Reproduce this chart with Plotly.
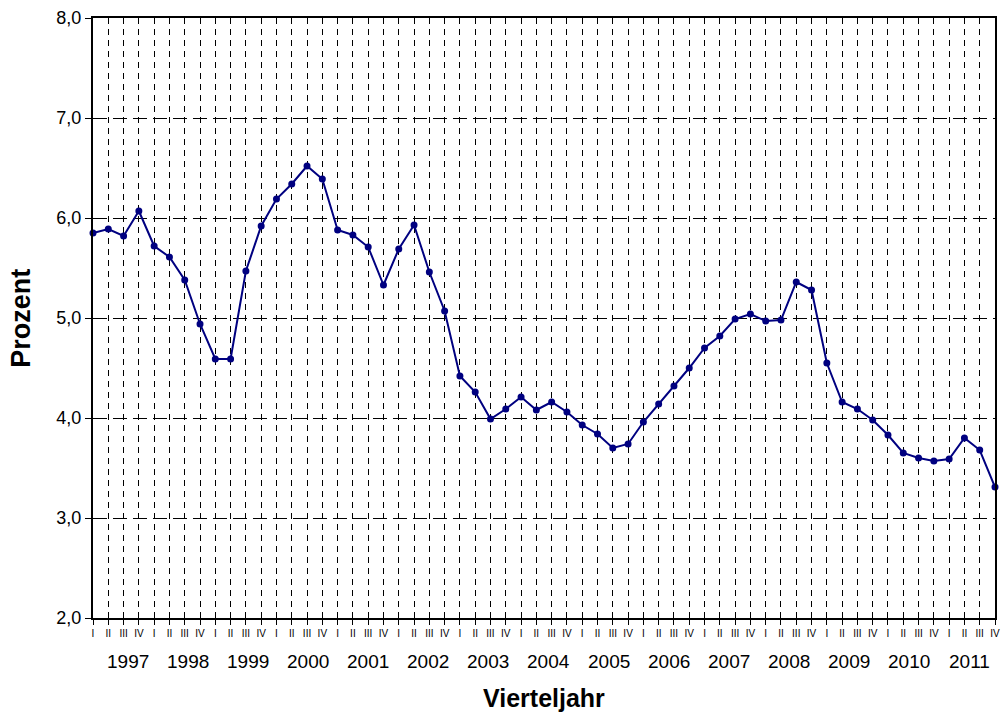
import plotly.graph_objects as go

# Quartalswerte 1997 I bis 2011 IV (Prozent)
jahre = [str(j) for j in range(1997, 2012)]
quartale = ["I", "II", "III", "IV"]
werte = [
    5.85, 5.89, 5.82, 6.07,   # 1997
    5.72, 5.61, 5.38, 4.94,   # 1998
    4.59, 4.59, 5.47, 5.92,   # 1999
    6.19, 6.34, 6.52, 6.39,   # 2000
    5.88, 5.83, 5.71, 5.33,   # 2001
    5.69, 5.93, 5.46, 5.07,   # 2002
    4.42, 4.26, 3.99, 4.09,   # 2003
    4.21, 4.08, 4.16, 4.06,   # 2004
    3.93, 3.84, 3.70, 3.74,   # 2005
    3.96, 4.14, 4.32, 4.50,   # 2006
    4.70, 4.82, 4.99, 5.04,   # 2007
    4.97, 4.98, 5.36, 5.28,   # 2008
    4.55, 4.16, 4.09, 3.98,   # 2009
    3.83, 3.65, 3.60, 3.57,   # 2010
    3.59, 3.80, 3.68, 3.31,   # 2011
]
y_ticks = [2, 3, 4, 5, 6, 7, 8]

x = list(range(len(werte)))
q_labels = [quartale[i % 4] for i in x]

fig = go.Figure()
fig.add_trace(go.Scatter(
    x=x, y=werte, mode="lines+markers",
    line=dict(color="#000080", width=2),
    marker=dict(color="#000080", size=7),
    cliponaxis=False, showlegend=False,
))

fig.update_layout(
    width=1008, height=713,
    margin=dict(l=93, r=8, t=17, b=95),
    plot_bgcolor="white", paper_bgcolor="white",
    separators=",.",
    font=dict(family="Liberation Sans, Arial, sans-serif", color="black"),
)

fig.update_xaxes(
    range=[0, len(werte) - 1],
    tickmode="array", tickvals=x, ticktext=q_labels,
    tickfont=dict(size=10),
    ticks="outside", ticklen=5, tickcolor="black",
    showline=True, linecolor="black", linewidth=2, mirror=True,
    showgrid=True, gridcolor="black", gridwidth=1, griddash="6px,5px",
    zeroline=False,
)
fig.update_yaxes(
    range=[2, 8], tickvals=y_ticks, tickformat=".1f",
    tickfont=dict(size=18),
    ticks="outside", ticklen=6, tickcolor="black",
    showline=True, linecolor="black", linewidth=2, mirror=True,
    showgrid=True, gridcolor="black", gridwidth=1, griddash="14px,6px",
    zeroline=False,
)

# Jahresbeschriftung unter den Quartalen
n = len(jahre)
for k, jahr in enumerate(jahre):
    fig.add_annotation(
        x=(k + 0.5) * (len(werte) - 1) / n + 0.3, xref="x",
        y=-0.073, yref="paper", yanchor="middle",
        text=jahr, showarrow=False, font=dict(size=19),
    )

fig.add_annotation(
    x=0.5, xref="paper", y=-0.133, yref="paper", yanchor="middle",
    text="<b>Vierteljahr</b>", showarrow=False, font=dict(size=25),
)
fig.add_annotation(
    x=-0.08, xref="paper", y=0.5, yref="paper", xanchor="center",
    text="<b>Prozent</b>", textangle=-90, showarrow=False, font=dict(size=27),
)

# kein Seitenrand um das Diagramm, keine Modebar
fig.write_html("out.html", config={"displayModeBar": False},
               post_script="document.body.style.margin='0';")
